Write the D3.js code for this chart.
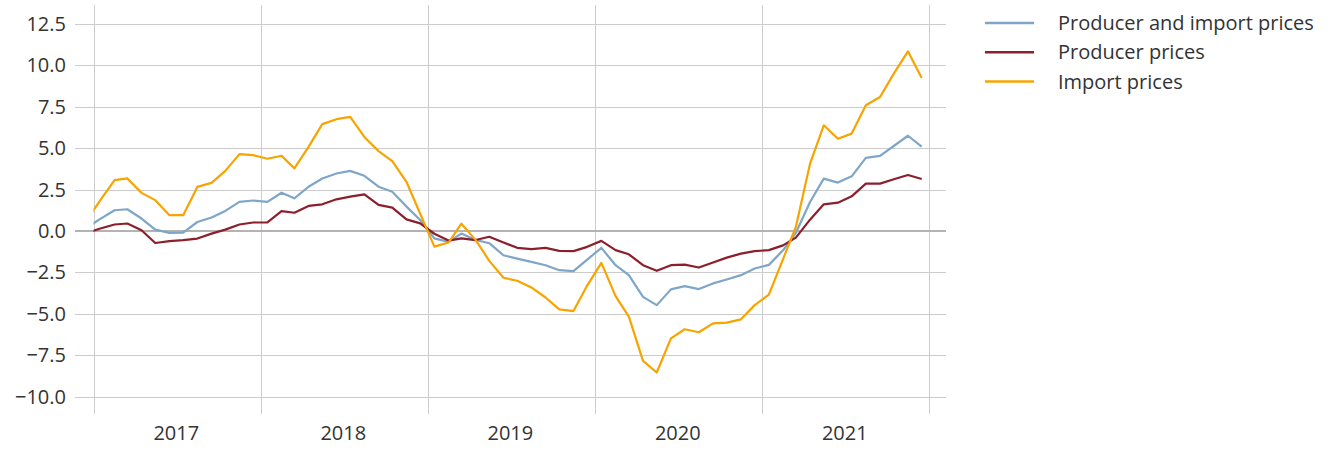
<!DOCTYPE html>
<html>
<head>
<meta charset="utf-8">
<script src="https://cdnjs.cloudflare.com/ajax/libs/d3/7.8.5/d3.min.js"></script>
<style>
  body { margin: 0; background: #fff; }
  text { font-family: "Open Sans", Roboto, sans-serif; }
</style>
</head>
<body>
<div id="my_dataviz"></div>
<script>
// monthly values, Dec 2016 .. Dec 2021 (first point sits outside the plot and gets clipped)
var firstMonth = "2016-12";
var yearLabels = ["2017", "2018", "2019", "2020", "2021"];
var yTicks = [-10, -7.5, -5, -2.5, 0, 2.5, 5, 7.5, 10, 12.5];

var producerImport = [0.17,
  0.73, 1.25, 1.31, 0.75, 0.08, -0.12, -0.10, 0.54, 0.81, 1.21, 1.76, 1.84,
  1.76, 2.31, 1.97, 2.67, 3.17, 3.47, 3.63, 3.33, 2.67, 2.37, 1.47, 0.66,
  -0.45, -0.66, -0.16, -0.54, -0.74, -1.47, -1.67, -1.87, -2.07, -2.37, -2.43, -1.73,
  -1.02, -2.07, -2.67, -3.98, -4.48, -3.53, -3.33, -3.51, -3.17, -2.93, -2.67, -2.27,
  -2.05, -1.17, -0.12, 1.75, 3.16, 2.92, 3.30, 4.41, 4.53, 5.13, 5.75, 5.09];

var producer = [-0.13,
  0.15, 0.39, 0.45, 0.04, -0.73, -0.62, -0.56, -0.46, -0.16, 0.08, 0.39, 0.51,
  0.52, 1.20, 1.10, 1.51, 1.61, 1.91, 2.07, 2.21, 1.57, 1.41, 0.70, 0.46,
  -0.17, -0.58, -0.45, -0.55, -0.35, -0.70, -1.02, -1.10, -1.02, -1.20, -1.22, -0.96,
  -0.60, -1.16, -1.41, -2.07, -2.41, -2.07, -2.03, -2.21, -1.91, -1.61, -1.37, -1.22,
  -1.16, -0.87, -0.40, 0.68, 1.61, 1.71, 2.09, 2.86, 2.86, 3.12, 3.38, 3.14];

var importPrices = [0.6,
  1.86, 3.07, 3.17, 2.30, 1.86, 0.95, 0.95, 2.66, 2.90, 3.63, 4.64, 4.58,
  4.36, 4.54, 3.78, 5.08, 6.45, 6.75, 6.89, 5.68, 4.82, 4.22, 2.97, 1.04,
  -0.95, -0.70, 0.44, -0.54, -1.81, -2.83, -3.01, -3.41, -4.02, -4.74, -4.84, -3.30,
  -1.93, -3.94, -5.18, -7.85, -8.55, -6.49, -5.94, -6.12, -5.58, -5.54, -5.34, -4.48,
  -3.85, -1.70, 0.24, 4.06, 6.38, 5.57, 5.88, 7.59, 8.09, 9.50, 10.85, 9.24];

var seriesNames = ["Producer and import prices", "Producer prices", "Import prices"];
var seriesColors = ["#7fa5c8", "#8c1f2c", "#f7a400"];

var width = 1335, height = 450;
var plot = {left: 93.5, right: 929, top: 24, bottom: 396.5};

var svg = d3.select("#my_dataviz")
  .append("svg")
    .attr("width", width)
    .attr("height", height);

var parseMonth = d3.timeParse("%Y-%m");
var start = parseMonth(firstMonth);
// plot points at the middle of each month
var dates = producer.map(function(d, i) {
  return d3.timeDay.offset(d3.timeMonth.offset(start, i), 15);
});

var x = d3.scaleTime()
  .domain([new Date(2017, 0, 1), new Date(2022, 0, 1)])
  .range([plot.left, plot.right]);

var y = d3.scaleLinear()
  .domain([-10, 12.5])
  .range([plot.bottom, plot.top]);

// horizontal grid
svg.append("g")
  .selectAll("line")
  .data(yTicks.filter(function(d) { return d !== 0; }))
  .enter()
  .append("line")
    .attr("x1", 75)
    .attr("x2", 946)
    .attr("y1", function(d) { return Math.round(y(d)) + 0.5; })
    .attr("y2", function(d) { return Math.round(y(d)) + 0.5; })
    .attr("stroke", "#cccccc")
    .attr("stroke-width", 1);

// vertical year lines
var yearStarts = d3.timeYear.range(new Date(2017, 0, 1), new Date(2022, 0, 2));
svg.append("g")
  .selectAll("line")
  .data(yearStarts)
  .enter()
  .append("line")
    .attr("x1", function(d) { return Math.round(x(d)) + 0.5; })
    .attr("x2", function(d) { return Math.round(x(d)) + 0.5; })
    .attr("y1", 5)
    .attr("y2", 414)
    .attr("stroke", "#cccccc")
    .attr("stroke-width", 1);

// zero line
svg.append("line")
  .attr("x1", 75)
  .attr("x2", 946)
  .attr("y1", y(0))
  .attr("y2", y(0))
  .attr("stroke", "#b3b3b3")
  .attr("stroke-width", 2);

// y labels
svg.append("g")
  .selectAll("text")
  .data(yTicks)
  .enter()
  .append("text")
    .attr("x", 66)
    .attr("y", function(d) { return y(d); })
    .attr("dy", "0.35em")
    .attr("text-anchor", "end")
    .attr("fill", "#333")
    .style("font-size", "20px")
    .text(function(d) { return d3.format(".1f")(d).replace("-", "\u2212"); });

// year labels, centred in each year
svg.append("g")
  .selectAll("text")
  .data(yearLabels)
  .enter()
  .append("text")
    .attr("x", function(d) { return x(new Date(+d, 6, 1)); })
    .attr("y", 440)
    .attr("text-anchor", "middle")
    .attr("fill", "#333")
    .style("font-size", "20px")
    .text(function(d) { return d; });

svg.append("clipPath")
    .attr("id", "clip")
  .append("rect")
    .attr("x", plot.left)
    .attr("y", 0)
    .attr("width", plot.right - plot.left)
    .attr("height", height);

var line = d3.line()
  .x(function(d, i) { return x(dates[i]); })
  .y(function(d) { return y(d); });

var allSeries = [producerImport, producer, importPrices];

svg.append("g")
    .attr("clip-path", "url(#clip)")
  .selectAll("path")
  .data(allSeries)
  .enter()
  .append("path")
    .attr("d", function(d) { return line(d); })
    .attr("fill", "none")
    .attr("stroke", function(d, i) { return seriesColors[i]; })
    .attr("stroke-width", 2.2)
    .attr("stroke-linejoin", "round");

// legend
var legend = svg.append("g")
  .selectAll("g")
  .data(seriesNames)
  .enter()
  .append("g")
    .attr("transform", function(d, i) { return "translate(985," + (23 + i * 29.3) + ")"; });
legend.append("line")
  .attr("x1", 0)
  .attr("x2", 49)
  .attr("stroke", function(d, i) { return seriesColors[i]; })
  .attr("stroke-width", 2.5);
legend.append("text")
  .attr("x", 73)
  .attr("dy", "0.35em")
  .attr("fill", "#333")
  .style("font-size", "20px")
  .text(function(d) { return d; });
</script>
</body>
</html>
